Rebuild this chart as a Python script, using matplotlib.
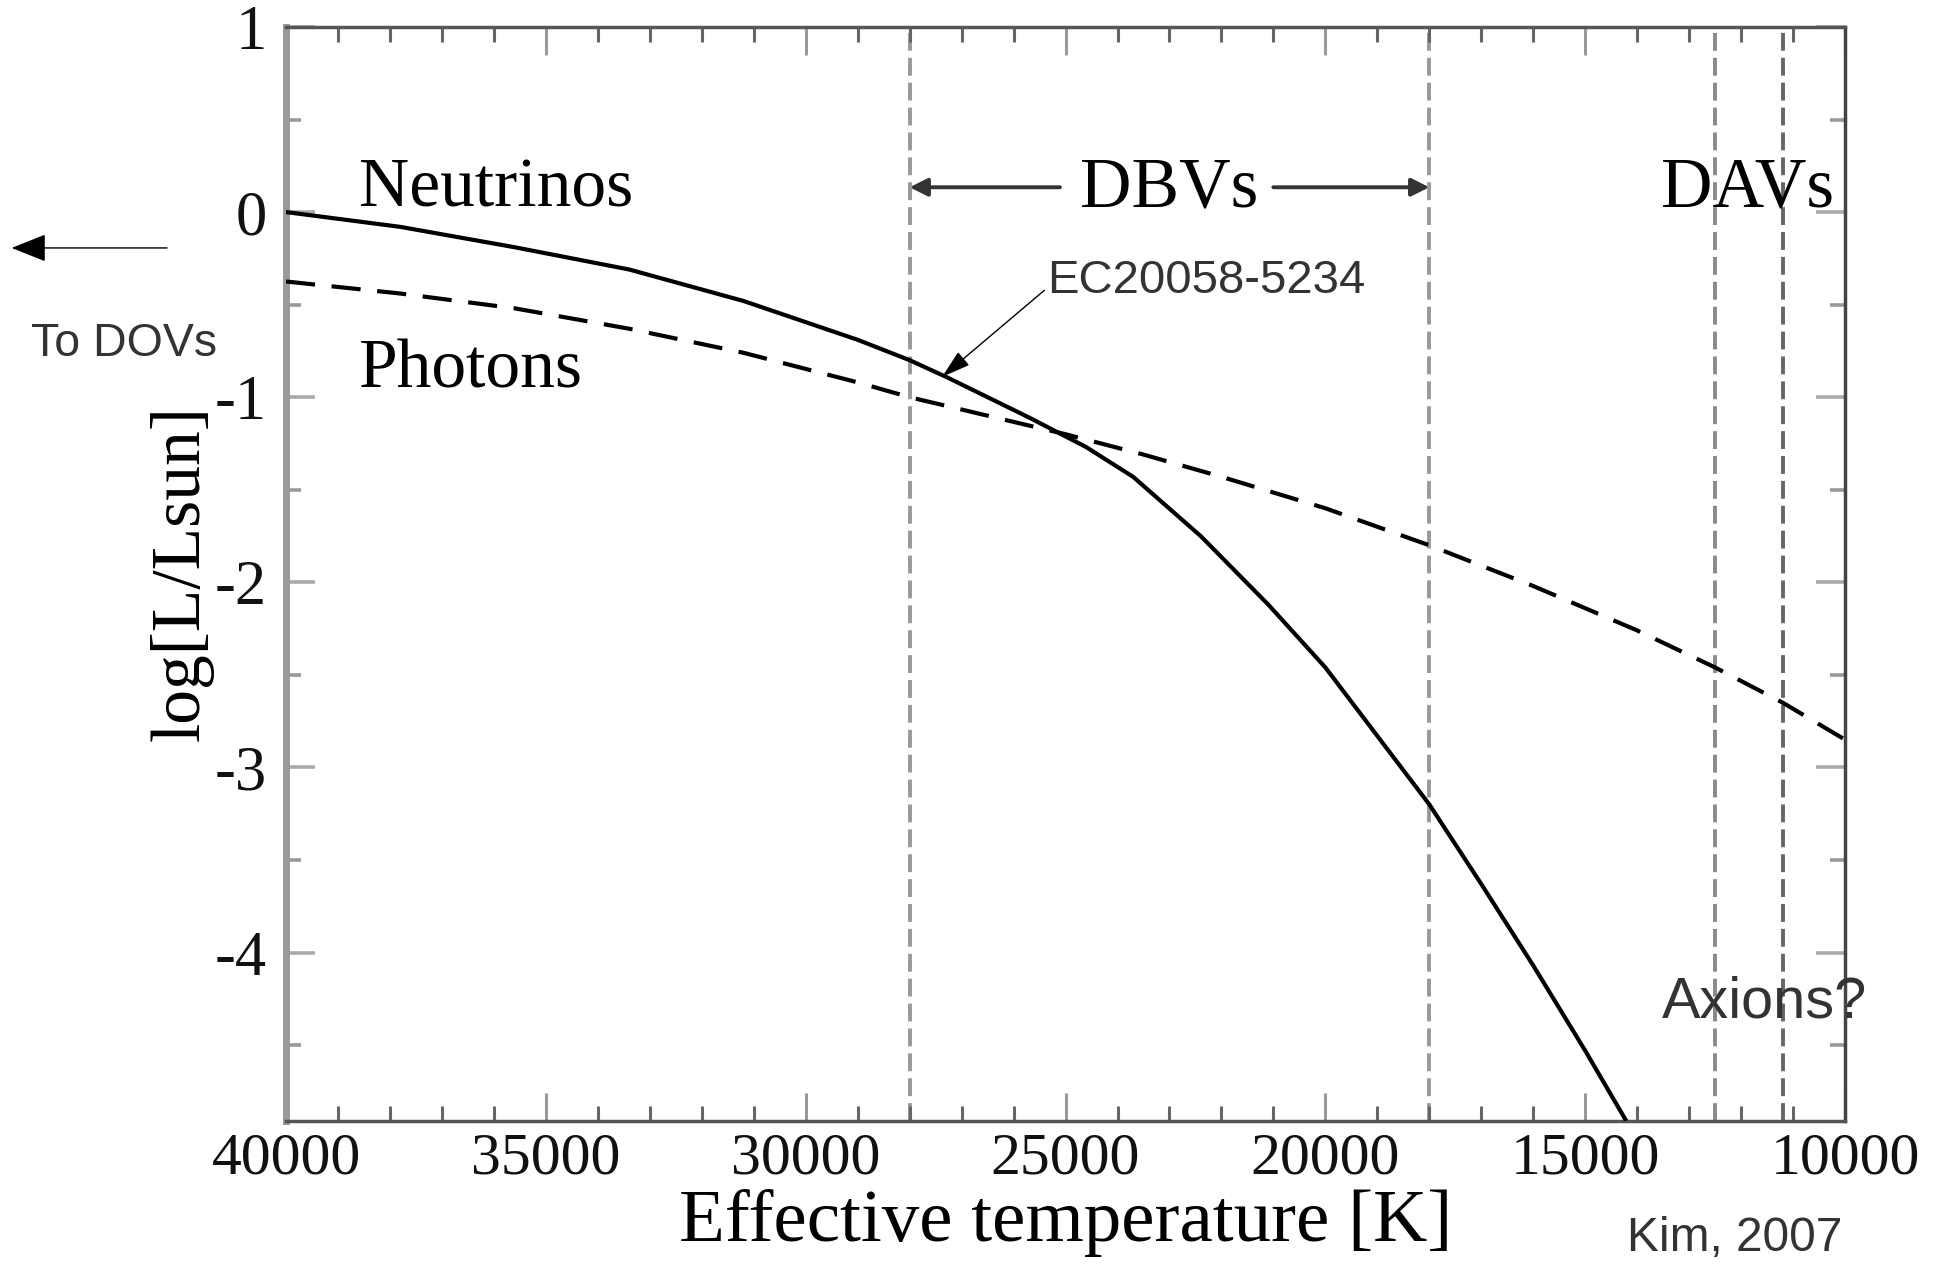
import matplotlib
matplotlib.use('Agg')
import matplotlib.pyplot as plt
from matplotlib.ticker import FixedLocator, MultipleLocator

SERIF = ['Liberation Serif', 'DejaVu Serif']
SANS = ['Liberation Sans', 'DejaVu Sans']
plt.rcParams['font.family'] = SERIF
plt.rcParams['axes.unicode_minus'] = False

# ---------------- data ----------------
neutrino_T = [40000, 37800, 35600, 33400, 31200, 29000, 28000, 27300, 25700, 24600,
              23700, 22400, 21100, 20000, 19000, 18000, 17000, 16000, 15000, 14230]
neutrino_L = [0.00, -0.08, -0.19, -0.31, -0.48, -0.69, -0.80, -0.89, -1.11, -1.27,
              -1.43, -1.75, -2.12, -2.46, -2.83, -3.20, -3.63, -4.07, -4.53, -4.90]

photon_T = [40000, 37800, 35600, 33400, 31200, 29000, 28000, 26500, 25000, 23500,
            22000, 20000, 18000, 16000, 14000, 12500, 11200, 10000]
photon_L = [-0.375, -0.44, -0.52, -0.63, -0.76, -0.92, -1.00, -1.10, -1.20, -1.31,
            -1.43, -1.60, -1.80, -2.02, -2.26, -2.46, -2.65, -2.85]

strip_edges_T = [28000, 18000, 12500, 11200]
strip_colors = ['#999999', '#999999', '#8a8a8a', '#666666']

xtick_values = [40000, 35000, 30000, 25000, 20000, 15000, 10000]
xtick_labels = ['40000', '35000', '30000', '25000', '20000', '15000', '10000']
ytick_values = [1, 0, -1, -2, -3, -4]
ytick_labels = ['1', '0', '-1', '-2', '-3', '-4']

star_name = 'EC20058-5234'
star_T, star_L = 27375, -0.89

# ---------------- figure ----------------
fig = plt.figure(figsize=(19.43, 12.65), dpi=100)
ax = fig.add_axes([0.1472, 0.1138, 0.8024, 0.8649])
ax.set_xlim(40000, 10000)
ax.set_ylim(-4.91, 1.0)

for T, c in zip(strip_edges_T, strip_colors):
    ax.axvline(T, color=c, lw=2.8, linestyle=(0, (4.6, 1.8)), zorder=1)

ax.plot(neutrino_T, neutrino_L, color='black', lw=3.0, zorder=3,
        solid_joinstyle='round')
ax.plot(photon_T, photon_L, color='black', lw=3.0, linestyle=(0, (7.0, 4.0)), zorder=3)

# ticks
ax.xaxis.set_major_locator(FixedLocator(xtick_values))
ax.set_xticklabels(xtick_labels)
ax.xaxis.set_minor_locator(MultipleLocator(1000))
ax.yaxis.set_major_locator(FixedLocator(ytick_values))
ax.set_yticklabels(ytick_labels)
ax.yaxis.set_minor_locator(MultipleLocator(0.5))

ax.tick_params(axis='x', which='both', direction='in', top=True, bottom=True,
               labelsize=43, pad=8, labelcolor='#111111')
ax.tick_params(axis='x', which='major', length=20, width=2.2, color='#999999')
ax.tick_params(axis='x', which='minor', length=11, width=2.2, color='#666666')
ax.tick_params(axis='y', which='both', direction='in', left=True, right=True,
               labelsize=45, pad=14, labelcolor='#111111')
ax.tick_params(axis='y', which='major', length=21, width=2.6, color='#aaaaaa')
ax.tick_params(axis='y', which='minor', length=11, width=2.6, color='#999999')

# spines
ax.spines['left'].set_color('#999999')
ax.spines['left'].set_linewidth(5)
for s in ['bottom', 'top']:
    ax.spines[s].set_color('#555555')
    ax.spines[s].set_linewidth(2.5)
ax.spines['right'].set_color('#444444')
ax.spines['right'].set_linewidth(2.5)

# axis labels
ax.set_xlabel('Effective temperature [K]', fontsize=54)
ax.xaxis.label.set_va('center')
ax.xaxis.set_label_coords(0.5, -0.093)
ax.set_ylabel('log[L/Lsun]', fontsize=50)
ax.yaxis.label.set_va('center')
ax.yaxis.set_label_coords(-0.0667, 0.501)

# curve labels
ax.text(38594, 0.03, 'Neutrinos', fontsize=50, ha='left', va='baseline')
ax.text(38594, -0.95, 'Photons', fontsize=50, ha='left', va='baseline')
ax.text(23000, 0.03, 'DBVs', fontsize=51.5, ha='center', va='baseline')
ax.text(11870, 0.03, 'DAVs', fontsize=51.5, ha='center', va='baseline')

# DBV range arrows
dbv_arrow = dict(arrowstyle='-|>,head_length=0.9,head_width=0.45', mutation_scale=12,
                 lw=2.8, color='#333333', shrinkA=0, shrinkB=0)
ax.annotate('', xy=(28000, 0.134), xytext=(25107, 0.134), arrowprops=dbv_arrow)
ax.annotate('', xy=(18000, 0.134), xytext=(21002, 0.134), arrowprops=dbv_arrow)

# star annotation
ax.annotate(star_name, xy=(star_T, star_L), xytext=(25346, -0.375),
            ha='left', va='center', fontsize=34, family=SANS, color='#333333',
            arrowprops=dict(arrowstyle='-|>,head_length=1.0,head_width=0.3',
                            mutation_scale=18, lw=1.0, color='black',
                            shrinkA=0, shrinkB=0, relpos=(-0.01, 0.3)))

ax.text(13532, -4.27, 'Axions?', fontsize=41.5, family=SANS, color='#333333',
        ha='left', va='center')

# outside annotations
fig.text(0.0638, 0.728, 'To DOVs', fontsize=33.5, family=SANS, color='#333333',
         ha='center', va='center')
ax.annotate('', xy=(0.006, 0.804), xytext=(0.086, 0.804),
            xycoords='figure fraction', textcoords='figure fraction',
            annotation_clip=False,
            arrowprops=dict(arrowstyle='-|>,head_length=1.0,head_width=0.4',
                            mutation_scale=22, lw=1.0, color='black',
                            shrinkA=0, shrinkB=0))
fig.text(0.948, 0.021, 'Kim, 2007', fontsize=34.5, family=SANS, color='#333333',
         ha='right', va='center')

fig.savefig('out.png', dpi=100)
